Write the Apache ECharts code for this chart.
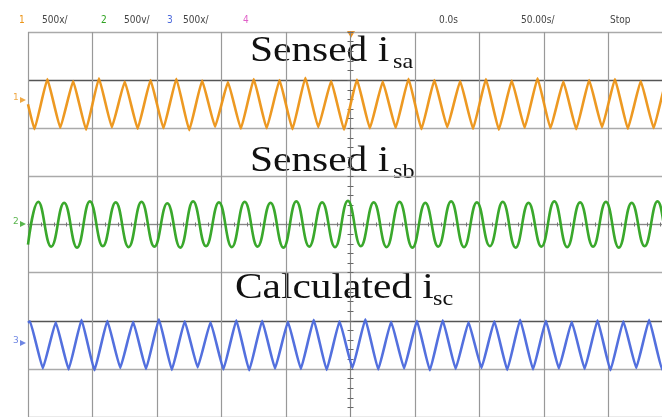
<!DOCTYPE html>
<html><head><meta charset="utf-8">
<script src="https://cdn.jsdelivr.net/npm/echarts@6/dist/echarts.min.js"></script>
<style>html,body{margin:0;padding:0;background:#fff}#c{width:662px;height:417px}</style>
</head><body><div id="c"></div>
<script>
// header labels of the scope screen
const channelLabels = ['1', '2', '3', '4'];
const scaleLabels = ['500x/', '500v/', '500x/'];
const timeLabels = ['0.0s', '50.00s/', 'Stop'];
// trace titles: main text + subscript
const titleMain = ['Sensed i', 'Sensed i', 'Calculated i'];
const titleSub = ['sa', 'sb', 'sc'];

// time axis (ms) and vertical divisions
const timeMin = -250, timeMax = 250, timeDiv = 50;
const divMin = -4, divMax = 4;

// [time ms, divisions] (peaks / troughs)
const isa = [[-250,2.5],[-245,1.98],[-235,3.02],[-225,2.01],[-215,2.98],[-205,1.97],[-195,3.04],[-185,2.02],[-175,2.97],[-165,1.99],[-155,3.00],[-145,2.00],[-135,3.03],[-125,1.96],[-115,2.99],[-105,2.03],[-95,2.96],[-85,1.99],[-75,3.02],[-65,2.00],[-55,3.00],[-45,1.98],[-35,3.05],[-25,2.02],[-15,2.98],[-5,1.97],[5,3.01],[15,2.00],[25,2.97],[35,2.01],[45,3.03],[55,1.98],[65,3.00],[75,2.02],[85,2.98],[95,1.99],[105,3.02],[115,1.97],[125,2.99],[135,2.01],[145,3.04],[155,2.00],[165,2.97],[175,1.98],[185,3.00],[195,2.02],[205,3.02],[215,1.99],[225,2.98],[235,2.00],[245,3.01],[250,2.5]];
const isb = [[-250,-0.42],[-242,0.47],[-232,-0.46],[-222,0.45],[-212,-0.48],[-202,0.48],[-192,-0.45],[-182,0.46],[-172,-0.47],[-162,0.47],[-152,-0.46],[-142,0.44],[-132,-0.48],[-122,0.48],[-112,-0.45],[-102,0.46],[-92,-0.47],[-82,0.47],[-72,-0.46],[-62,0.45],[-52,-0.48],[-42,0.48],[-32,-0.46],[-22,0.46],[-12,-0.47],[-2,0.49],[8,-0.45],[18,0.46],[28,-0.47],[38,0.47],[48,-0.48],[58,0.45],[68,-0.46],[78,0.48],[88,-0.47],[98,0.46],[108,-0.45],[118,0.47],[128,-0.48],[138,0.45],[148,-0.46],[158,0.48],[168,-0.47],[178,0.46],[188,-0.46],[198,0.47],[208,-0.48],[218,0.45],[228,-0.45],[238,0.48],[248,-0.47],[250,-0.44]];
const isc = [[-250,-2.04],[-248.5,-2.01],[-238.5,-2.99],[-228.5,-2.03],[-218.5,-3.01],[-208.5,-1.98],[-198.5,-3.03],[-188.5,-2.00],[-178.5,-2.98],[-168.5,-2.02],[-158.5,-3.00],[-148.5,-1.97],[-138.5,-3.02],[-128.5,-2.01],[-118.5,-2.97],[-108.5,-2.03],[-98.5,-3.01],[-88.5,-1.99],[-78.5,-3.03],[-68.5,-2.00],[-58.5,-2.99],[-48.5,-2.02],[-38.5,-3.00],[-28.5,-1.98],[-18.5,-3.02],[-8.5,-2.01],[1.5,-2.98],[11.5,-1.97],[21.5,-3.01],[31.5,-2.02],[41.5,-2.99],[51.5,-2.00],[61.5,-3.03],[71.5,-1.99],[81.5,-3.00],[91.5,-2.03],[101.5,-2.98],[111.5,-2.01],[121.5,-3.02],[131.5,-1.98],[141.5,-3.01],[151.5,-2.00],[161.5,-2.99],[171.5,-2.02],[181.5,-3.00],[191.5,-1.99],[201.5,-3.03],[211.5,-2.01],[221.5,-2.98],[231.5,-1.98],[241.5,-3.01],[250,-2.10]];

const COLORS = ['#EC9416', '#2FA321', '#4A68DC', '#E060C8'];
const chart = echarts.init(document.getElementById('c'), null, {renderer: 'canvas'});

const hdrFont = {fontFamily: "'Liberation Sans Narrow','DejaVu Sans Condensed','Roboto Condensed',sans-serif", fontSize: 10};
const serif = "'Liberation Serif','Times New Roman',serif";

const graphics = [];
// header
const chPos = [19, 101, 167, 243];
const scPos = [42, 124, 183];
channelLabels.forEach((t, i) => graphics.push({type: 'text', x: chPos[i], y: 20, style: Object.assign({text: t, fill: COLORS[i], textVerticalAlign: 'middle'}, hdrFont)}));
scaleLabels.forEach((t, i) => graphics.push({type: 'text', x: scPos[i], y: 20, style: Object.assign({text: t, fill: '#444', textVerticalAlign: 'middle'}, hdrFont)}));
const tPos = [439, 521, 610];
timeLabels.forEach((t, i) => graphics.push({type: 'text', x: tPos[i], y: 20, style: Object.assign({text: t, fill: '#444', textVerticalAlign: 'middle'}, hdrFont)}));
// trigger marker
graphics.push({type: 'polygon', shape: {points: [[347, 31], [355, 31], [351, 38]]}, style: {fill: '#F08C10'}});
// channel ground markers
const mk = [[100, 0], [224, 1], [343, 2]];
mk.forEach(([y, i]) => {
  graphics.push({type: 'text', x: 13, y: y - 2, style: {text: channelLabels[i], fill: COLORS[i], fontSize: 9, fontFamily: 'DejaVu Sans', textVerticalAlign: 'middle', opacity: 0.8}});
  graphics.push({type: 'polygon', shape: {points: [[20, y - 3], [26, y], [20, y + 3]]}, style: {fill: COLORS[i], opacity: 0.8}});
});
// titles
const tmX = [250, 250, 235], tmY = [52, 162, 289];
const tsX = [393, 393, 433], tsY = [62, 172, 299];
titleMain.forEach((t, i) => {
  graphics.push({type: 'text', x: tmX[i], y: tmY[i], scaleX: 1.15, style: {text: t, fill: '#111', fontSize: 36, fontFamily: serif, textVerticalAlign: 'middle'}});
  graphics.push({type: 'text', x: tsX[i], y: tsY[i], scaleX: 1.15, style: {text: titleSub[i], fill: '#111', fontSize: 21, fontFamily: serif, textVerticalAlign: 'middle'}});
});

const centerAxis = (pos) => ({
  type: 'value', min: timeMin, max: timeMax, interval: timeDiv, position: pos,
  axisLine: {show: true, onZero: true, lineStyle: {color: '#888', width: 1}},
  axisTick: {show: true, length: 3, lineStyle: {color: '#777'}},
  minorTick: {show: true, splitNumber: 5, length: 2, lineStyle: {color: '#777'}},
  axisLabel: {show: false}, splitLine: {show: false}
});
const centerY = (pos) => ({
  type: 'value', min: divMin, max: divMax, interval: 1, position: pos,
  axisLine: {show: true, onZero: true, lineStyle: {color: '#888', width: 1}},
  axisTick: {show: true, length: 3, lineStyle: {color: '#666'}},
  minorTick: {show: true, splitNumber: 5, length: 3, lineStyle: {color: '#666'}},
  axisLabel: {show: false}, splitLine: {show: false}
});

chart.setOption({
  animation: false,
  backgroundColor: '#fff',
  grid: {left: 28, top: 32, width: 645, height: 385, containLabel: false, outerBoundsMode: 'none'},
  xAxis: [
    {type: 'value', min: timeMin, max: timeMax, interval: timeDiv,
     axisLine: {show: false}, axisTick: {show: false}, axisLabel: {show: false},
     splitLine: {show: true, lineStyle: {color: '#999', width: 1.2}}},
    centerAxis('bottom'), centerAxis('top')
  ],
  yAxis: [
    {type: 'value', min: divMin, max: divMax, interval: 1,
     axisLine: {show: false}, axisTick: {show: false}, axisLabel: {show: false},
     splitLine: {show: true, lineStyle: {color: ['#aaa', '#aaa', '#555', '#aaa', '#aaa', '#aaa', '#aaa', '#555', '#aaa'], width: 1.3}}},
    centerY('left'), centerY('right')
  ],
  series: [
    {type: 'line', data: isa, showSymbol: false, smooth: 0.1, lineStyle: {color: COLORS[0], width: 2.6, opacity: 0.95}, z: 5},
    {type: 'line', data: isb, showSymbol: false, smooth: 0.45, lineStyle: {color: COLORS[1], width: 2.6, opacity: 0.95}, z: 5},
    {type: 'line', data: isc, showSymbol: false, smooth: 0.1, lineStyle: {color: COLORS[2], width: 2.6, opacity: 0.95}, z: 5}
  ],
  graphic: {elements: graphics}
});
</script></body></html>
